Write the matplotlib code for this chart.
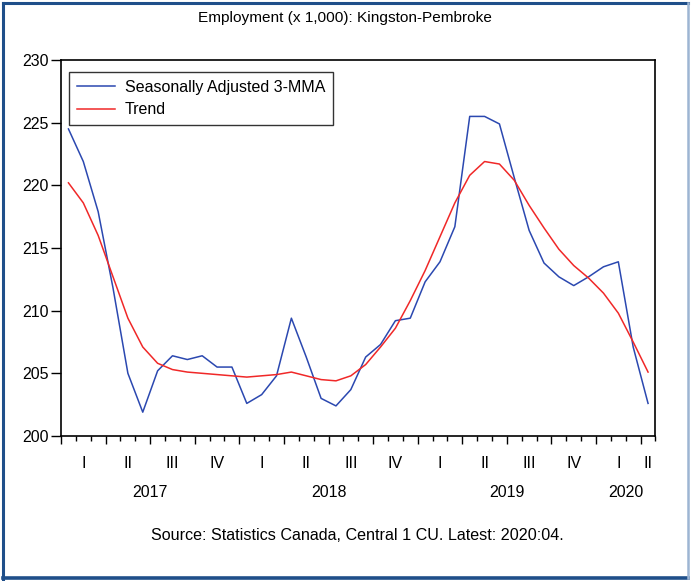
import numpy as np
import matplotlib
matplotlib.use("Agg")
import matplotlib.pyplot as plt
import matplotlib.transforms as mtransforms
from matplotlib.lines import Line2D

plt.rcParams['font.family'] = ['Liberation Sans', 'DejaVu Sans']

# monthly data, Jan 2017 .. Apr 2020
sa_3mma = [224.5, 221.9, 217.9, 211.8, 205.0, 201.9, 205.2, 206.4, 206.1, 206.4,
           205.5, 205.5, 202.6, 203.3, 204.8, 209.4, 206.3, 203.0, 202.4, 203.7,
           206.3, 207.3, 209.2, 209.4, 212.3, 213.9, 216.7, 225.5, 225.5, 224.9,
           220.6, 216.4, 213.8, 212.7, 212.0, 212.7, 213.5, 213.9, 207.1, 202.6]
trend = [220.2, 218.6, 216.0, 212.7, 209.4, 207.1, 205.8, 205.3, 205.1, 205.0,
         204.9, 204.8, 204.7, 204.8, 204.9, 205.1, 204.8, 204.5, 204.4, 204.8,
         205.7, 207.1, 208.6, 210.8, 213.2, 215.9, 218.6, 220.8, 221.9, 221.7,
         220.4, 218.4, 216.6, 214.9, 213.6, 212.6, 211.4, 209.8, 207.5, 205.1]
years = ['2017', '2018', '2019', '2020']
quarters = ['I', 'II', 'III', 'IV']

n = len(sa_3mma)
x = np.arange(n)

fig = plt.figure(figsize=(6.91, 5.81), dpi=100)
ax = fig.add_axes([0.0883, 0.2496, 0.9486 - 0.0883, 0.8967 - 0.2496])

ax.plot(x, sa_3mma, color='#2B48B0', lw=1.1, label='Seasonally Adjusted 3-MMA')
ax.plot(x, trend, color='#F02828', lw=1.1, label='Trend')

ax.set_xlim(-0.5, n - 0.5)
ax.set_ylim(200, 230)
ax.set_yticks(np.arange(200, 231, 5))
ax.tick_params(axis='y', direction='out', length=7, width=1, labelsize=11.5, pad=2)

# month ticks (minor) and quarter ticks (major)
ax.set_xticks(np.arange(-0.5, n - 0.5, 3))
ax.set_xticks(np.arange(-0.5, n, 1), minor=True)
ax.tick_params(axis='x', which='major', direction='out', length=6, width=1, labelbottom=False)
ax.tick_params(axis='x', which='minor', direction='out', length=3.5, width=1)
for s in ax.spines.values():
    s.set_linewidth(1.2)

trans = mtransforms.blended_transform_factory(ax.transData, fig.transFigure)
for q in range(0, n, 3):
    last = min(q + 2, n - 1)
    ax.text((q + last) / 2, 0.203, quarters[(q // 3) % 4], transform=trans,
            ha='center', va='center', fontsize=11.5)
for i, yr in enumerate(years):
    start = i * 12
    end = min(start + 11, n - 1)
    ax.text((start + end) / 2, 0.153, yr, transform=trans,
            ha='center', va='center', fontsize=11.5)

leg = ax.legend(loc='upper left', bbox_to_anchor=(0.013, 0.968), fontsize=11.5,
                frameon=True, fancybox=False, handlelength=2.4, borderpad=0.5,
                labelspacing=0.45, handletextpad=0.6, borderaxespad=0)
leg.get_frame().set_edgecolor('black')
leg.get_frame().set_linewidth(1.0)

fig.text(0.4993, 0.969, 'Employment (x 1,000): Kingston-Pembroke',
         ha='center', va='center', fontsize=11.1)
fig.text(0.517, 0.0775, 'Source: Statistics Canada, Central 1 CU. Latest: 2020:04.',
         ha='center', va='center', fontsize=11.6)

# outer frame
dark = '#1F4F8A'
fig.add_artist(Line2D([0.004, 0.004], [0.003, 0.995], color=dark, lw=2.2, transform=fig.transFigure))
fig.add_artist(Line2D([0.004, 0.996], [0.995, 0.995], color=dark, lw=2.2, transform=fig.transFigure))
fig.add_artist(Line2D([0.004, 0.996], [0.006, 0.006], color=dark, lw=2.6, transform=fig.transFigure))
fig.add_artist(Line2D([0.995, 0.995], [0.006, 0.995], color='#9DB5D3', lw=1.8, transform=fig.transFigure))

fig.savefig('out.png', dpi=100)
